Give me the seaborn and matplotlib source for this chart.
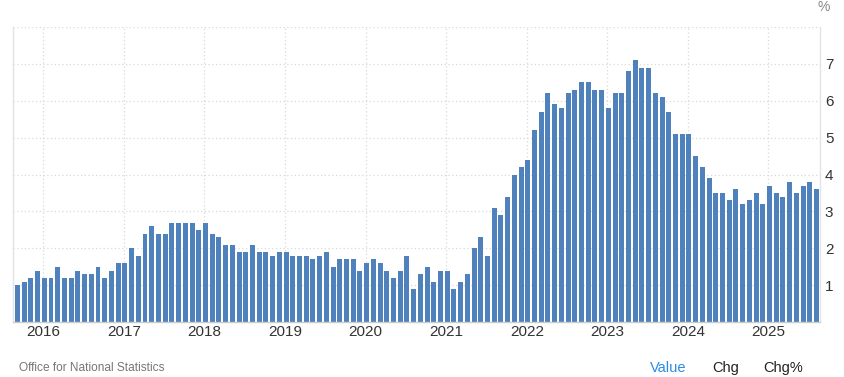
import matplotlib
matplotlib.use("Agg")
import matplotlib.pyplot as plt
import seaborn as sns
import pandas as pd

# Monthly values, Sep 2015 .. Aug 2025
months = pd.date_range("2015-09-01", "2025-08-01", freq="MS").strftime("%Y-%m").tolist()
values = [
    1.0, 1.1, 1.2, 1.4,                                           # 2015 Sep-Dec
    1.2, 1.2, 1.5, 1.2, 1.2, 1.4, 1.3, 1.3, 1.5, 1.2, 1.4, 1.6,   # 2016
    1.6, 2.0, 1.8, 2.4, 2.6, 2.4, 2.4, 2.7, 2.7, 2.7, 2.7, 2.5,   # 2017
    2.7, 2.4, 2.3, 2.1, 2.1, 1.9, 1.9, 2.1, 1.9, 1.9, 1.8, 1.9,   # 2018
    1.9, 1.8, 1.8, 1.8, 1.7, 1.8, 1.9, 1.5, 1.7, 1.7, 1.7, 1.4,   # 2019
    1.6, 1.7, 1.6, 1.4, 1.2, 1.4, 1.8, 0.9, 1.3, 1.5, 1.1, 1.4,   # 2020
    1.4, 0.9, 1.1, 1.3, 2.0, 2.3, 1.8, 3.1, 2.9, 3.4, 4.0, 4.2,   # 2021
    4.4, 5.2, 5.7, 6.2, 5.9, 5.8, 6.2, 6.3, 6.5, 6.5, 6.3, 6.3,   # 2022
    5.8, 6.2, 6.2, 6.8, 7.1, 6.9, 6.9, 6.2, 6.1, 5.7, 5.1, 5.1,   # 2023
    5.1, 4.5, 4.2, 3.9, 3.5, 3.5, 3.3, 3.6, 3.2, 3.3, 3.5, 3.2,   # 2024
    3.7, 3.5, 3.4, 3.8, 3.5, 3.7, 3.8, 3.6,                       # 2025 Jan-Aug
]
year_labels = ["2016", "2017", "2018", "2019", "2020", "2021", "2022", "2023", "2024", "2025"]
y_ticks = [1, 2, 3, 4, 5, 6, 7]

df = pd.DataFrame({"month": months, "value": values})

sns.set_theme(style="white")
plt.rcParams["font.family"] = ["Liberation Sans", "DejaVu Sans"]

fig = plt.figure(figsize=(8.45, 3.77), dpi=100)
ax = fig.add_axes([0.0157, 0.1454, 0.9547, 0.783])

sns.barplot(data=df, x="month", y="value", order=months, color="#4f81bd",
            saturation=1, width=0.74, ax=ax, edgecolor="none")

ax.set_xlim(-0.62, len(months) - 0.48)
ax.set_ylim(0, 8)

# year ticks at January bars
jan_pos = [months.index(f"{y}-01") for y in year_labels]
ax.set_xticks([p - 0.15 for p in jan_pos])
ax.set_xticklabels(year_labels, fontsize=11, color="#333333")
ax.set_xlabel("")
ax.set_ylabel("")

ax.yaxis.tick_right()
ax.set_yticks(y_ticks + [8])
ax.set_yticklabels([str(t) for t in y_ticks] + [""], fontsize=11, color="#333333")
ax.tick_params(axis="x", length=0, pad=2)
ax.tick_params(axis="y", length=0, pad=3.5)

ax.grid(True, axis="both", color="#d9d9d9", linestyle=(0, (1, 2)), linewidth=0.9)
ax.set_axisbelow(True)

for side in ["left", "right"]:
    ax.spines[side].set_visible(True)
    ax.spines[side].set_color("#e3e3e3")
    ax.spines[side].set_linewidth(1)
ax.spines["top"].set_visible(False)
ax.spines["bottom"].set_color("#cccccc")
ax.spines["bottom"].set_linewidth(1)

fig.text(818 / 845, 1 - 7 / 377, "%", fontsize=10, color="#888888", ha="left", va="center")
fig.text(19 / 845, 1 - 368 / 377, "Office for National Statistics", fontsize=8.6,
         color="#777777", ha="left", va="center")
fig.text(650 / 845, 1 - 368 / 377, "Value", fontsize=10.5, color="#2d8ae5", ha="left", va="center")
fig.text(712 / 845, 1 - 368 / 377, "Chg", fontsize=10.5, color="#222222", ha="left", va="center")
fig.text(763 / 845, 1 - 368 / 377, "Chg%", fontsize=10.5, color="#222222", ha="left", va="center")

fig.savefig("out.png", dpi=100, facecolor="white")
